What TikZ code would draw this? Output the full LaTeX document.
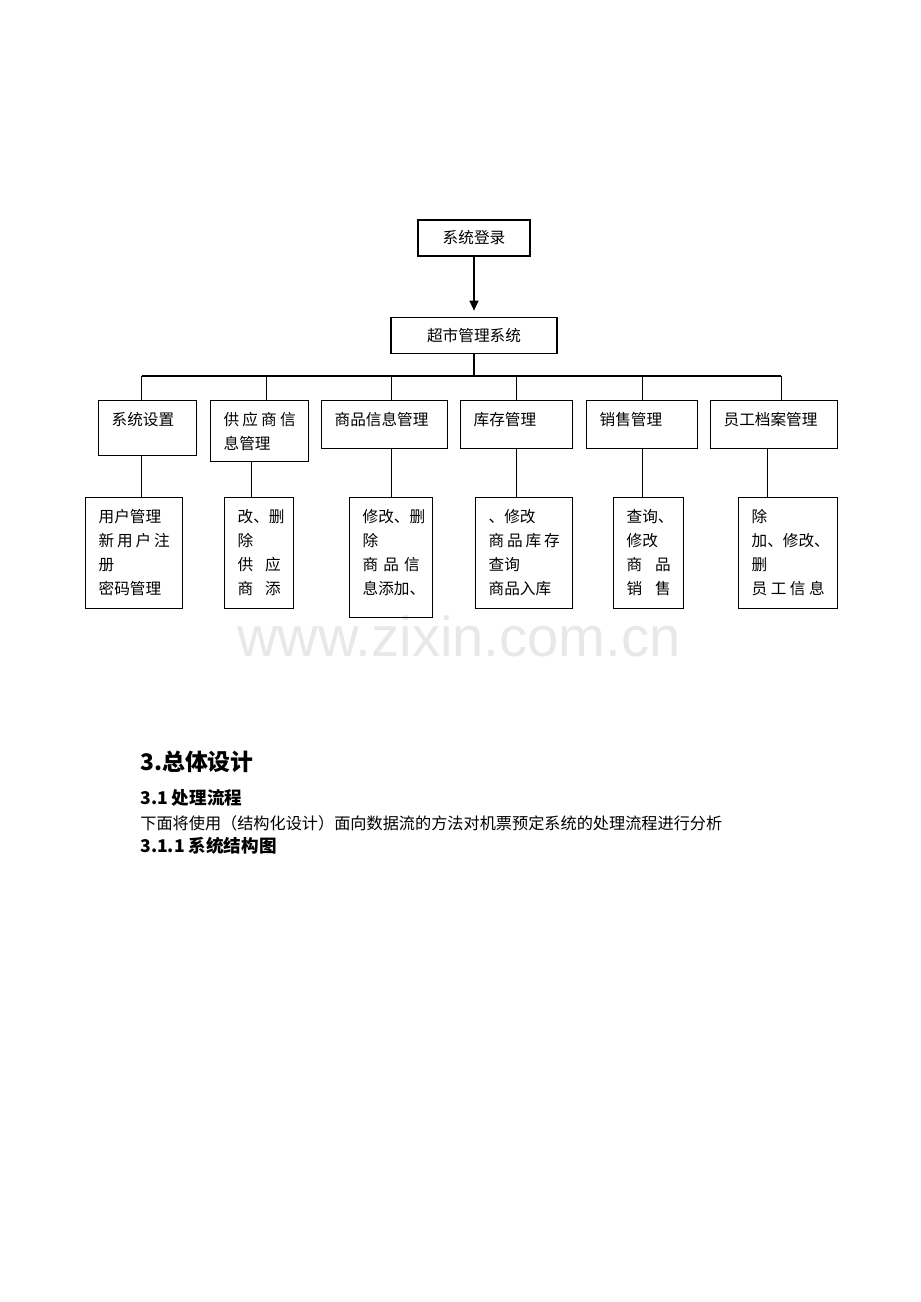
\documentclass[tikz,border=0pt]{standalone}
\usepackage{fontspec}
\setmainfont{Noto Sans CJK SC}
\newfontfamily\wmfont{Liberation Sans}
\usetikzlibrary{positioning,arrows.meta}
\newdimen\px
\px=0.02cm
\def\lw{0.75pt}
\tikzset
{
  Top/.style =
  {
    draw,
    line width=\lw,
    minimum height=36\px,
    inner sep=0pt,
    font=\fontsize{8.9pt}{13.7pt}\selectfont,
  },
  Box/.style 2 args =
  {
    draw,
    line width=\lw,
    anchor=north west,
    align=left,
    inner xsep=13\px,
    inner ysep=0pt,
    text height=25\px,
    text width=#1\px,
    text depth=#2\px,
    font=\fontsize{8.9pt}{13.7pt}\selectfont,
  },
  Heading/.style={anchor=west, inner sep=0pt},
  Link/.style={line width=\lw},
  Arrow/.style=
  {
    line width=\lw,
    -{Triangle[length=5.7pt,width=5.1pt]},
    shorten >=3.4pt,
  }
}
% spread the characters of one line over the given width
\newcommand{\spr}[2]{\makebox[#1\px][s]{#2}}

\begin{document}
\begin{tikzpicture}[x=0.02cm, y=-0.02cm]
\useasboundingbox (0,0) rectangle (920,1302);

% watermark
\node (wm) [anchor=base, text=gray!18, font=\wmfont\fontsize{32pt}{32pt}\selectfont] at (459,656) {www.zixin.com.cn};

% top of the chart
\node (login) [Top, minimum width=112\px] at (474,238) {系统登录};
\node (sys) [Top, minimum width=166\px, below=1.2cm of login] {超市管理系统};
\coordinate (bus) at (474,376);

% modules
\node (set)   [Box={72}{30}]  at (98,400)  {系统设置};
\node (sup)   [Box={72}{36}]  at (210,400) {\spr{72}{供\hfill 应\hfill 商\hfill 信}\\息管理};
\node (goods) [Box={100}{23}] at (321,400) {商品信息管理};
\node (stock) [Box={86}{23}]  at (460,400) {库存管理};
\node (sale)  [Box={85}{23}]  at (586,400) {销售管理};
\node (staff) [Box={101}{23}] at (710,400) {员工档案管理};

% functions
\node (set-sub)   [Box={71}{86}] at (85,497)  {用户管理\\\spr{71}{新\hfill 用\hfill 户\hfill 注}\\册\\密码管理};
\node (sup-sub)   [Box={43}{86}] at (224,497) {改、删\\除\\\spr{43}{供\hfill 应}\\\spr{43}{商\hfill 添}};
\node (goods-sub) [Box={57}{95}] at (349,497) {修改、删\\除\\\spr{57}{商\hfill 品\hfill 信}\\息添加、};
\node (stock-sub) [Box={71}{86}] at (475,497) {、修改\\\spr{71}{商\hfill 品\hfill 库\hfill 存}\\查询\\商品入库};
\node (sale-sub)  [Box={44}{86}] at (613,497) {查询、\\修改\\\spr{44}{商\hfill 品}\\\spr{44}{销\hfill 售}};
\node (staff-sub) [Box={73}{86}] at (738,497) {除\\加、修改、\\删\\\spr{73}{员\hfill 工\hfill 信\hfill 息}};

% connectors
\draw [Arrow] (login) -- (sys);
\draw [Link] (sys) -- (bus);
\draw [Link] ([xshift=-0.12cm]set.north |- bus) -- ([xshift=0.14cm]staff.north |- bus);
\foreach \n/\dx in {set/-6,sup/7,goods/7,stock/0,sale/0,staff/7}
  \draw [Link] ([xshift=\dx*0.02cm]\n.north |- bus) -- ([xshift=\dx*0.02cm]\n.north);
\foreach \n/\dx in {set/-6,sup/-8,goods/7,stock/0,sale/0,staff/-7}
  \draw [Link] ([xshift=\dx*0.02cm]\n.south) -- ([xshift=\dx*0.02cm]\n.south |- \n-sub.north);

% text below the chart
\node (h1) [Heading, font=\bfseries\fontsize{13pt}{15pt}\selectfont] at (140,762) {3.总体设计};
\node (h2) [Heading, font=\bfseries\fontsize{10pt}{12pt}\selectfont] at (140,798) {3.1 处理流程};
\node (intro) [Heading, font=\fontsize{9.2pt}{11pt}\selectfont] at (140,823) {下面将使用（结构化设计）面向数据流的方法对机票预定系统的处理流程进行分析};
\node (h3) [Heading, font=\bfseries\fontsize{10pt}{12pt}\selectfont] at (140,846) {3.1.1 系统结构图};
\end{tikzpicture}
\end{document}
